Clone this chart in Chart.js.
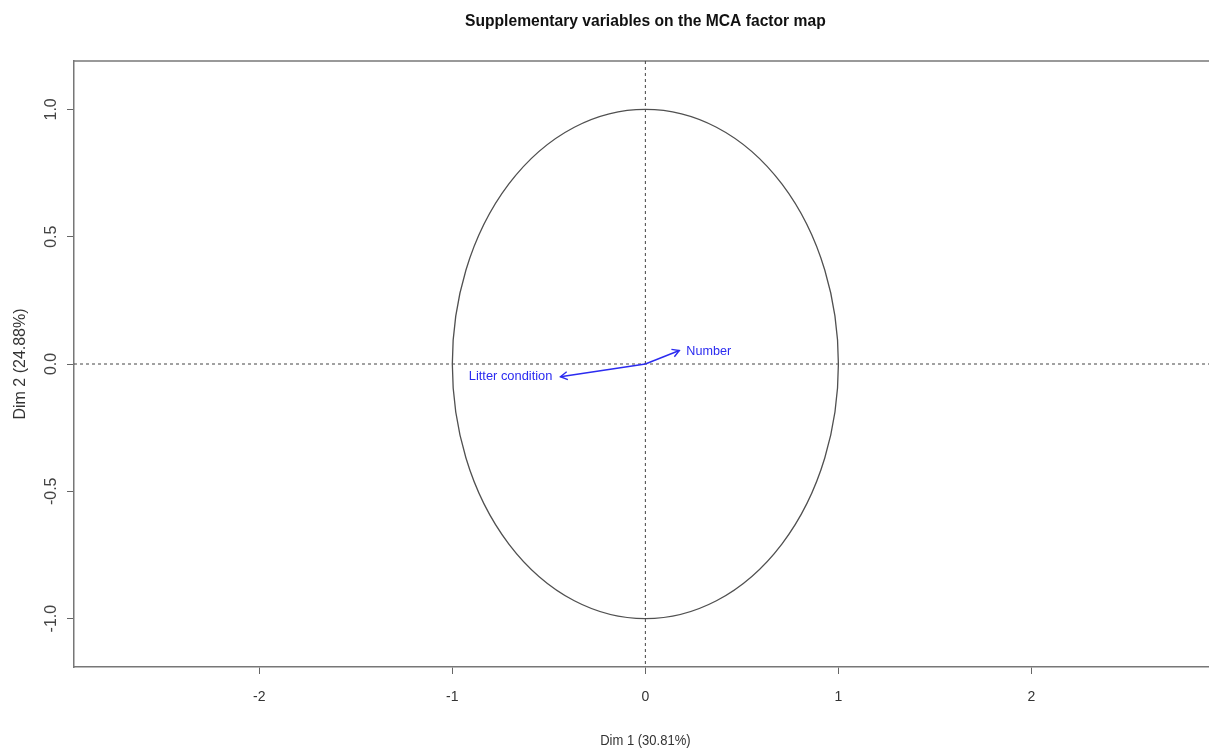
<!DOCTYPE html>
<html>
<head>
<meta charset="utf-8">
<script src="https://cdn.jsdelivr.net/npm/chart.js@4.4.1/dist/chart.umd.min.js"></script>
<style>
    html, body { margin: 0; padding: 0; background: #ffffff; overflow: hidden; }
    #mca-chart { display: block; }
</style>
</head>
<body>
<canvas id="mca-chart" width="1209" height="749"></canvas>
<script>
// Supplementary variables (coordinates on Dim 1 / Dim 2)
const varNames = ['Number', 'Litter condition'];
const varDim1 = [0.176, -0.44];
const varDim2 = [0.053, -0.05];

// Axis ticks and ranges
const xTicks = [-2, -1, 0, 1, 2];
const yTicks = [-1.0, -0.5, 0.0, 0.5, 1.0];
const xRange = [-2.96, 2.92];
const yRange = [-1.19, 1.19];

// Correlation circle radius
const circleRadius = 1;

const chartTitle = 'Supplementary variables on the MCA factor map';
const xTitle = 'Dim 1 (30.81%)';
const yTitle = 'Dim 2 (24.88%)';

const baseFont = "'Liberation Sans', Arial, sans-serif";
const arrowColor = '#2b2bf0';

const datasets = varNames.map((name, i) => ({
    label: name,
    data: [{ x: 0, y: 0 }, { x: varDim1[i], y: varDim2[i] }],
    showLine: true,
    borderColor: arrowColor,
    borderWidth: 1.4,
    pointRadius: 0,
    fill: false
}));

// text squeezed horizontally, like the resized R device output
function narrowText(ctx, text, x, y, squeeze, align) {
    ctx.save();
    ctx.translate(x, y);
    ctx.scale(squeeze, 1);
    ctx.textAlign = align || 'center';
    ctx.textBaseline = 'middle';
    ctx.fillText(text, 0, 0);
    ctx.restore();
}

const factorMapPlugin = {
    id: 'factorMap',
    beforeDatasetsDraw(chart) {
        const ctx = chart.ctx;
        const area = chart.chartArea;
        const xs = chart.scales.x;
        const ys = chart.scales.y;

        ctx.save();
        // top border of the box
        ctx.strokeStyle = '#777777';
        ctx.lineWidth = 1.5;
        ctx.beginPath();
        ctx.moveTo(area.left, area.top);
        ctx.lineTo(area.right, area.top);
        ctx.stroke();

        // dashed zero lines
        ctx.strokeStyle = '#444444';
        ctx.lineWidth = 1;
        ctx.setLineDash([3, 3]);
        const x0 = xs.getPixelForValue(0);
        const y0 = ys.getPixelForValue(0);
        ctx.beginPath();
        ctx.moveTo(area.left, y0);
        ctx.lineTo(area.right, y0);
        ctx.moveTo(x0, area.top);
        ctx.lineTo(x0, area.bottom);
        ctx.stroke();
        ctx.setLineDash([]);

        // correlation circle
        const rx = xs.getPixelForValue(circleRadius) - x0;
        const ry = y0 - ys.getPixelForValue(circleRadius);
        ctx.strokeStyle = '#505050';
        ctx.lineWidth = 1.3;
        ctx.beginPath();
        ctx.ellipse(x0, y0, rx, ry, 0, 0, Math.PI * 2);
        ctx.stroke();

        // rotated y tick labels
        ctx.fillStyle = '#444444';
        ctx.font = '16px ' + baseFont;
        ctx.textAlign = 'center';
        ctx.textBaseline = 'middle';
        yTicks.forEach(v => {
            ctx.save();
            ctx.translate(52, ys.getPixelForValue(v));
            ctx.rotate(-Math.PI / 2);
            ctx.fillText(v.toFixed(1), 0, 0);
            ctx.restore();
        });

        // y axis title
        ctx.fillStyle = '#333333';
        ctx.font = '16px ' + baseFont;
        ctx.save();
        ctx.translate(21, ys.getPixelForValue(0));
        ctx.rotate(-Math.PI / 2);
        ctx.fillText(yTitle, 0, 0);
        ctx.restore();

        // main title and x axis title
        ctx.fillStyle = '#111111';
        ctx.font = 'bold 17px ' + baseFont;
        narrowText(ctx, chartTitle, xs.getPixelForValue(0), 21, 0.92);
        ctx.fillStyle = '#333333';
        ctx.font = '14px ' + baseFont;
        narrowText(ctx, xTitle, xs.getPixelForValue(0), 741, 0.93);
        ctx.restore();
    },
    afterDatasetsDraw(chart) {
        const ctx = chart.ctx;
        const xs = chart.scales.x;
        const ys = chart.scales.y;
        const x0 = xs.getPixelForValue(0);
        const y0 = ys.getPixelForValue(0);

        ctx.save();
        varNames.forEach((name, i) => {
            const tx = xs.getPixelForValue(varDim1[i]);
            const ty = ys.getPixelForValue(varDim2[i]);
            const angle = Math.atan2(ty - y0, tx - x0);
            const headLen = 8;

            ctx.strokeStyle = arrowColor;
            ctx.lineWidth = 1.4;
            ctx.beginPath();
            ctx.moveTo(tx - headLen * Math.cos(angle - Math.PI / 6), ty - headLen * Math.sin(angle - Math.PI / 6));
            ctx.lineTo(tx, ty);
            ctx.lineTo(tx - headLen * Math.cos(angle + Math.PI / 6), ty - headLen * Math.sin(angle + Math.PI / 6));
            ctx.stroke();

            // label beside the tip
            ctx.fillStyle = arrowColor;
            ctx.font = '13px ' + baseFont;
            if (varDim1[i] >= 0) {
                narrowText(ctx, name, tx + 7, ty + 1, 0.97, 'left');
            } else {
                narrowText(ctx, name, tx - 8, ty, 0.99, 'right');
            }
        });
        ctx.restore();
    }
};

new Chart(document.getElementById('mca-chart'), {
    type: 'scatter',
    data: { datasets: datasets },
    options: {
        responsive: false,
        animation: false,
        layout: {
            padding: { top: 61, left: 0, right: 0, bottom: 0 }
        },
        plugins: {
            legend: { display: false },
            tooltip: { enabled: false },
            title: { display: false }
        },
        scales: {
            x: {
                type: 'linear',
                min: xRange[0],
                max: xRange[1],
                afterBuildTicks: scale => {
                    scale.ticks = xTicks.map(v => ({ value: v }));
                },
                afterFit: scale => {
                    scale.height = 82;
                },
                ticks: {
                    color: '#333333',
                    font: { family: baseFont, size: 14 },
                    padding: 15,
                    maxRotation: 0,
                    callback: v => String(v)
                },
                grid: {
                    drawOnChartArea: false,
                    drawTicks: true,
                    tickLength: 7,
                    tickColor: '#666666',
                    tickWidth: 1
                },
                border: { color: '#777777', width: 1.5 }
            },
            y: {
                type: 'linear',
                min: yRange[0],
                max: yRange[1],
                afterBuildTicks: scale => {
                    scale.ticks = yTicks.map(v => ({ value: v }));
                },
                afterFit: scale => {
                    scale.width = 74;
                },
                ticks: {
                    color: 'rgba(0,0,0,0)',
                    font: { family: baseFont, size: 15 },
                    callback: v => v.toFixed(1)
                },
                grid: {
                    drawOnChartArea: false,
                    drawTicks: true,
                    tickLength: 7,
                    tickColor: '#666666',
                    tickWidth: 1
                },
                border: { color: '#777777', width: 1.5 }
            }
        }
    },
    plugins: [factorMapPlugin]
});
</script>
</body>
</html>
